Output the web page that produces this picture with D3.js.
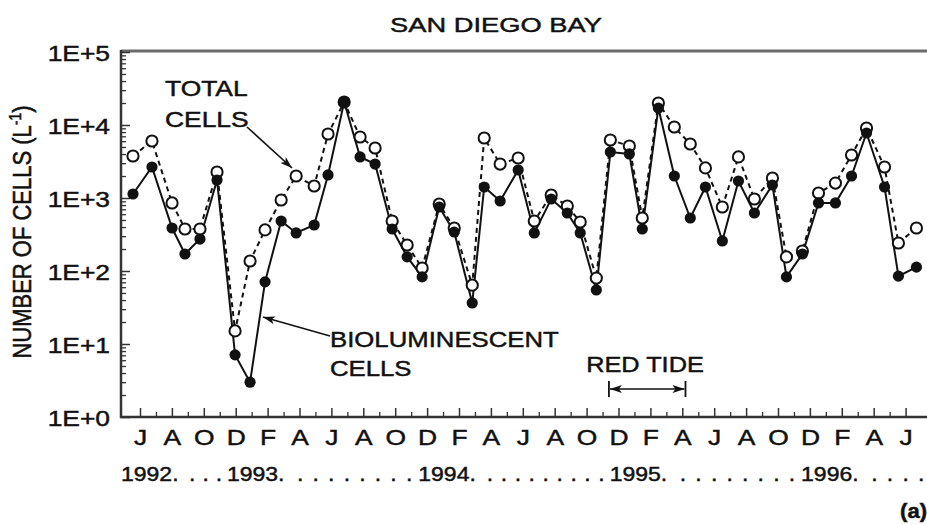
<!DOCTYPE html>
<html><head><meta charset="utf-8">
<script src="https://cdn.jsdelivr.net/npm/d3@7"></script>
<style>body{margin:0;background:#fff} svg{display:block} svg text{stroke:#111;stroke-width:0.45px}</style>
</head><body>
<svg id="c" width="927" height="525"></svg>
<script>
// sampling times, in months after June 1992 (0 = J 1992)
const sampleMonths = [-0.44, 0.75, 2.01, 2.82, 3.76, 4.83, 5.96, 6.90, 7.84, 8.85,
  9.79, 10.92, 11.79, 12.80, 13.80, 14.74, 15.81, 16.75, 17.69, 18.76,
  19.70, 20.83, 21.58, 22.58, 23.71, 24.72, 25.78, 26.79, 27.60, 28.61,
  29.49, 30.68, 31.49, 32.50, 33.50, 34.50, 35.45, 36.51, 37.52, 38.52,
  39.65, 40.53, 41.53, 42.54, 43.60, 44.61, 45.55, 46.68, 47.55, 48.68];
const totalCells = [3760, 6040, 855, 376, 376, 2270, 15.1, 137, 365, 939,
  2000, 1460, 7530, 20650, 6850, 4840, 484, 227, 110, 827,
  388, 64, 6640, 2920, 3530, 484, 1100, 777, 469, 80,
  6230, 5160, 532, 20000, 9390, 5490, 2580, 753, 3650, 969,
  1880, 156, 188, 1170, 1600, 3880, 9100, 2660, 242, 388];
const bioCells = [1135, 2660, 388, 171, 274, 1765, 7.1, 3.0, 71, 484,
  332, 427, 2070, 20650, 3650, 2920, 376, 156, 83, 753,
  342, 36.5, 1415, 910, 2420, 332, 969, 623, 332, 55,
  4270, 4010, 376, 17100, 2000, 532, 1415, 258, 1710, 623,
  1507, 83, 171, 855, 855, 2000, 7770, 1415, 85, 113];
const tickLetters = ["J","A","O","D","F","A","J","A","O","D","F","A","J",
  "A","O","D","F","A","J","A","O","D","F","A","J"];
const yTickValues = [1, 10, 100, 1000, 10000, 100000];
const yTickLabels = ["1E+0","1E+1","1E+2","1E+3","1E+4","1E+5"];
const yearLabels = ["1992.", "1993.", "1994.", "1995.", "1996."];
const yearDots = [3, 8, 9, 8, 4];
const redTide = [29.4, 34.2];

const FONT = "'Liberation Sans', Arial, Helvetica, sans-serif";
const SX = 1.2;
const INK = "#111";
const svg = d3.select("#c");
const pL = 121, pR = 927, pT = 51, pB = 417;

const x = d3.scaleLinear().domain([0, 48]).range([140, 905.6]);
const y = d3.scaleLog().domain([1, 1e5]).range([417, 52]);

function txt(str, px, py, o = {}) {
  return svg.append("text")
    .attr("transform", `translate(${px},${py}) scale(${o.sx || SX},1)`)
    .attr("font-family", FONT).attr("font-size", o.size || 22)
    .attr("font-weight", o.weight || "normal")
    .attr("text-anchor", o.anchor || "start").attr("fill", INK).text(str);
}

// markers
const defs = svg.append("defs");
defs.append("marker").attr("id", "ah").attr("viewBox", "0 0 12 8")
  .attr("refX", 12).attr("refY", 4).attr("markerWidth", 12).attr("markerHeight", 8)
  .attr("markerUnits", "userSpaceOnUse").attr("orient", "auto-start-reverse")
  .append("path").attr("d", "M0,0 L12,4 L0,8 L3,4 Z").attr("fill", INK);

// top frame line
svg.append("line").attr("x1", pL).attr("x2", pR).attr("y1", pT).attr("y2", pT)
  .attr("stroke", "#6a6a6a").attr("stroke-width", 3);

// y axis
const gy = svg.append("g").attr("transform", `translate(${pL},0)`)
  .call(d3.axisLeft(y).tickValues(yTickValues).tickSize(-9).tickPadding(0)
    .tickFormat((d, i) => yTickLabels[i]));
gy.select(".domain").remove();
gy.selectAll("line").attr("stroke", "#333").attr("stroke-width", 1.5);
gy.selectAll("text").attr("x", 0).attr("dy", null)
  .attr("transform", `translate(-11,8) scale(${SX},1)`)
  .attr("font-family", FONT).attr("font-size", 22).attr("fill", INK);
const minorY = [];
for (let k = 0; k < 5; k++) for (let j = 2; j <= 9; j++) minorY.push(j * Math.pow(10, k));
const gy2 = svg.append("g").attr("transform", `translate(${pL},0)`)
  .call(d3.axisLeft(y).tickValues(minorY).tickSize(-5).tickFormat(""));
gy2.select(".domain").remove();
gy2.selectAll("line").attr("stroke", "#333").attr("stroke-width", 1.3);

// x axis
const majorX = d3.range(0, 49, 2), minorX = d3.range(1, 48, 2);
const gx = svg.append("g").attr("transform", `translate(0,${pB})`)
  .call(d3.axisBottom(x).tickValues(majorX).tickSize(-9).tickPadding(0)
    .tickFormat((d, i) => tickLetters[i]));
gx.select(".domain").remove();
gx.selectAll("line").attr("stroke", "#333").attr("stroke-width", 1.5);
gx.selectAll("text").attr("y", 0).attr("dy", null)
  .attr("transform", `translate(0,28) scale(${SX},1)`)
  .attr("font-family", FONT).attr("font-size", 22).attr("fill", INK);
const gx2 = svg.append("g").attr("transform", `translate(0,${pB})`)
  .call(d3.axisBottom(x).tickValues(minorX).tickSize(-5).tickFormat(""));
gx2.select(".domain").remove();
gx2.selectAll("line").attr("stroke", "#333").attr("stroke-width", 1.3);

// axis lines
svg.append("line").attr("x1", pL).attr("x2", pL).attr("y1", pT - 1).attr("y2", pB + 1)
  .attr("stroke", "#333").attr("stroke-width", 2.5);
svg.append("line").attr("x1", pL - 1).attr("x2", pR).attr("y1", pB).attr("y2", pB)
  .attr("stroke", "#333").attr("stroke-width", 2.5);

// series
const totalData = sampleMonths.map((m, i) => ({ m, v: totalCells[i] }));
const bioData = sampleMonths.map((m, i) => ({ m, v: bioCells[i] }));
const line = d3.line().x(d => x(d.m)).y(d => y(d.v));
svg.append("path").datum(totalData).attr("d", line).attr("fill", "none")
  .attr("stroke", INK).attr("stroke-width", 2).attr("stroke-dasharray", "5,4");
svg.append("path").datum(bioData).attr("d", line).attr("fill", "none")
  .attr("stroke", INK).attr("stroke-width", 2);
svg.append("g").selectAll("circle").data(totalData).join("circle")
  .attr("cx", d => x(d.m)).attr("cy", d => y(d.v)).attr("r", 5.6)
  .attr("fill", "#fff").attr("stroke", INK).attr("stroke-width", 2);
svg.append("g").selectAll("circle").data(bioData).join("circle")
  .attr("cx", d => x(d.m)).attr("cy", d => y(d.v)).attr("r", 5.6)
  .attr("fill", INK);

// title
txt("SAN DIEGO BAY", 496, 32, { anchor: "middle", size: 21, sx: 1.3 });

// y title
const yt = svg.append("text")
  .attr("transform", `translate(31,232) scale(${SX},1) rotate(-90)`)
  .attr("font-family", FONT).attr("font-size", 22).attr("text-anchor", "middle").attr("fill", INK);
yt.append("tspan").text("NUMBER OF CELLS (L");
yt.append("tspan").attr("font-size", 14).attr("dy", -8).text("-1");
yt.append("tspan").attr("dy", 8).text(")");

// annotations
txt("TOTAL", 165, 96);
txt("CELLS", 165, 127);
svg.append("line").attr("x1", 247).attr("y1", 127).attr("x2", 292).attr("y2", 168)
  .attr("stroke", INK).attr("stroke-width", 1.6).attr("marker-end", "url(#ah)");
txt("BIOLUMINESCENT", 330, 347, { sx: 1.17 });
txt("CELLS", 330, 376, { sx: 1.17 });
svg.append("line").attr("x1", 330).attr("y1", 336).attr("x2", 263).attr("y2", 317)
  .attr("stroke", INK).attr("stroke-width", 1.6).attr("marker-end", "url(#ah)");

txt("RED TIDE", 645, 372, { anchor: "middle", sx: 1.15 });
const rt0 = x(redTide[0]), rt1 = x(redTide[1]);
svg.append("line").attr("x1", rt0 + 1).attr("x2", rt1 - 1).attr("y1", 389).attr("y2", 389)
  .attr("stroke", INK).attr("stroke-width", 1.6)
  .attr("marker-start", "url(#ah)").attr("marker-end", "url(#ah)");
[rt0, rt1].forEach(v => svg.append("line").attr("x1", v).attr("x2", v)
  .attr("y1", 381).attr("y2", 397).attr("stroke", INK).attr("stroke-width", 1.8));

// year line
const yearCenters = [null, 7, 19, 31, 43];
const yearBase = 481;
const yearNodes = yearLabels.map((s, i) => {
  if (i === 0) return txt(s, pL, yearBase, { size: 20, sx: 1.15 });
  return txt(s, x(yearCenters[i]) + 4, yearBase, { size: 20, sx: 1.15, anchor: "middle" });
});
const ext = yearNodes.map(n => {
  const b = n.node().getBBox();
  const tr = n.node().getCTM();
  return [tr.a * b.x + tr.e, tr.a * (b.x + b.width) + tr.e];
});
yearDots.forEach((n, i) => {
  const a = ext[i][1];
  const b = i < ext.length - 1 ? ext[i + 1][0] : 927;
  const step = i < ext.length - 1 ? (b - a) / (n + 0.6) : 15.6;
  for (let k = 1; k <= n; k++) {
    txt(".", a + step * k - 3, yearBase, { size: 20, sx: 1.15 });
  }
});

txt("(a)", 927, 518, { size: 20, weight: "bold", anchor: "end", sx: 1.1 });
</script>
</body></html>
